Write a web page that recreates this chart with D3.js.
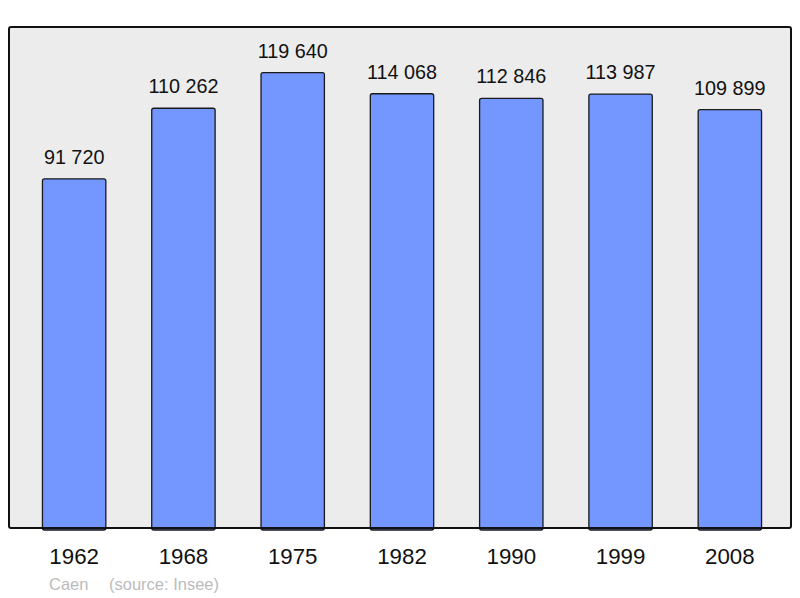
<!DOCTYPE html>
<html><head><meta charset="utf-8">
<script src="https://cdn.jsdelivr.net/npm/d3@7"></script>
<style>body{margin:0;background:#fff}svg{display:block}</style>
</head><body><svg id="c" width="800" height="598"></svg>
<script>
const years = ["1962","1968","1975","1982","1990","1999","2008"];
const population = [91720,110262,119640,114068,112846,113987,109899];
const labels = ["91 720","110 262","119 640","114 068","112 846","113 987","109 899"];
const town = "Caen";
const source = "(source: Insee)";

const svg = d3.select("#c");
const frame = {x0: 9, x1: 791, y0: 27, y1: 528};
const font = "'Liberation Sans', Arial, sans-serif";

svg.append("rect").attr("x", frame.x0).attr("y", frame.y0)
  .attr("width", frame.x1 - frame.x0).attr("height", frame.y1 - frame.y0)
  .attr("rx", 2).attr("fill", "#ececec");

const x = d3.scaleBand().domain(years).range([19.5, 784.5]).paddingInner(0.42).paddingOuter(0.21);
const y = d3.scaleLinear().domain([0, d3.max(population) * 1.1]).range([frame.y1, frame.y0]);

const data = years.map((yr, i) => ({yr, v: population[i], lab: labels[i]}));

svg.selectAll("rect.bar").data(data).join("rect").attr("class", "bar")
  .attr("x", d => x(d.yr)).attr("width", x.bandwidth())
  .attr("y", d => y(d.v)).attr("height", d => frame.y1 - y(d.v) + 2)
  .attr("rx", 2)
  .attr("fill", "#7396ff").attr("stroke", "#1a1a1a").attr("stroke-width", 1.3);

svg.selectAll("text.val").data(data).join("text").attr("class", "val")
  .attr("x", d => x(d.yr) + x.bandwidth() / 2).attr("y", d => y(d.v) - 15)
  .attr("text-anchor", "middle").attr("font-family", font).attr("font-size", 19.8)
  .attr("fill", "#111").text(d => d.lab);

// frame border on top
svg.append("rect").attr("x", frame.x0).attr("y", frame.y0)
  .attr("width", frame.x1 - frame.x0).attr("height", frame.y1 - frame.y0)
  .attr("rx", 2).attr("fill", "none").attr("stroke", "#111").attr("stroke-width", 2);

const xAxis = d3.axisBottom(x).tickSize(0).tickPadding(0);
const ax = svg.append("g").attr("transform", `translate(0,${frame.y1})`).call(xAxis);
ax.select(".domain").remove();
ax.selectAll("text").attr("y", 36).attr("dy", 0).attr("font-family", font).attr("font-size", 22.3).attr("fill", "#111");

svg.append("text").attr("x", 49).attr("y", 590).attr("font-family", font).attr("font-size", 16.5)
  .attr("fill", "#bbbbbb").text(town);
svg.append("text").attr("x", 109).attr("y", 590).attr("font-family", font).attr("font-size", 16.5)
  .attr("fill", "#bbbbbb").text(source);
</script></body></html>
